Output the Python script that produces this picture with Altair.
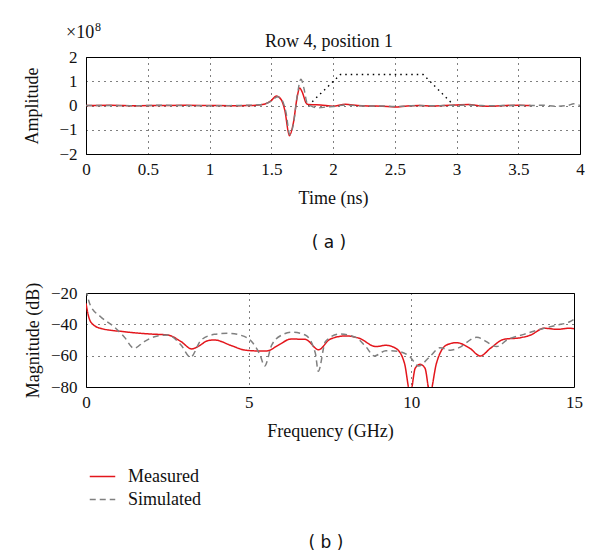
import altair as alt
import pandas as pd

# ---------------- panel (a): time domain ----------------
t_measured = [0.0, 0.2, 0.4, 0.6, 0.8, 1.0, 1.2, 1.3, 1.4, 1.45, 1.5, 1.54, 1.58, 1.61, 1.647,
              1.68, 1.71, 1.73, 1.755, 1.78, 1.8, 1.85, 1.9, 2.0, 2.1, 2.2, 2.3, 2.4, 2.5, 2.6,
              2.7, 2.8, 2.9, 3.0, 3.1, 3.2, 3.3, 3.4, 3.5, 3.6]
a_measured = [0.0, 0.01, -0.01, 0.0, 0.01, 0.0, -0.01, 0.0, 0.02, 0.06, 0.2, 0.39, 0.25, -0.2, -1.25,
              -0.7, 0.35, 0.72, 0.5, 0.12, 0.04, 0.03, 0.02, -0.03, 0.05, 0.0, -0.02, -0.03, -0.06, -0.02,
              0.0, -0.02, 0.0, 0.02, 0.04, -0.02, -0.03, 0.0, 0.01, 0.0]

t_simulated = [0.0, 0.2, 0.4, 0.6, 0.8, 1.0, 1.2, 1.3, 1.4, 1.45, 1.5, 1.55, 1.59, 1.62, 1.65,
               1.68, 1.71, 1.74, 1.765, 1.79, 1.82, 1.88, 1.95, 2.0, 2.1, 2.2, 2.3, 2.4, 2.5, 2.6,
               2.7, 2.8, 2.9, 3.0, 3.1, 3.2, 3.3, 3.4, 3.5, 3.6, 3.7, 3.8, 3.9, 3.95, 4.0]
a_simulated = [0.0, 0.0, -0.01, 0.01, 0.0, -0.01, 0.0, 0.01, 0.03, 0.07, 0.18, 0.36, 0.2, -0.3, -1.2,
               -0.75, 0.4, 1.08, 0.7, 0.1, -0.02, -0.1, -0.06, -0.04, 0.02, -0.01, -0.02, -0.02, -0.04, -0.02,
               0.0, -0.01, 0.0, 0.01, 0.02, 0.0, -0.01, 0.0, 0.01, 0.0, 0.01, -0.03, 0.0, 0.07, 0.0]

t_window = [1.8, 2.06, 2.73, 2.98]
a_window = [0.0, 1.28, 1.28, 0.0]

x_ticks_a = [0, 0.5, 1, 1.5, 2, 2.5, 3, 3.5, 4]
y_ticks_a = [-2, -1, 0, 1, 2]

# ---------------- panel (b): frequency domain ----------------
f_measured = [0.0, 0.08, 0.18, 0.44, 1.17, 1.99, 2.51, 2.92, 3.25, 3.44, 3.75, 3.95, 4.47, 4.88,
              5.3, 5.55, 5.92, 6.3, 6.74, 7.15, 7.5, 7.98, 8.4, 8.91, 9.22, 9.53, 9.79, 9.97,
              10.12, 10.27, 10.42, 10.57, 10.77, 11.08, 11.39, 11.8, 12.12, 12.43, 12.84, 13.36,
              13.67, 14.08, 14.49, 14.85, 15.0]
db_measured = [-26.6, -35.0, -39.4, -42.5, -44.7, -46.2, -46.8, -51.0, -55.7, -54.2, -50.4, -50.0, -53.6, -56.4,
               -57.0, -57.0, -53.2, -49.4, -49.6, -56.2, -49.5, -47.4, -48.9, -54.2, -53.4, -55.4, -64.9, -84.0,
               -68.0, -65.5, -68.0, -84.0, -65.0, -53.2, -51.7, -55.3, -60.2, -55.3, -49.6, -48.5,
               -46.8, -42.5, -43.2, -42.5, -42.8]

f_simulated = [0.0, 0.13, 0.44, 0.86, 1.17, 1.48, 1.79, 2.2, 2.51, 2.92, 3.21, 3.54, 3.95, 4.37,
               4.73, 5.09, 5.35, 5.49, 5.71, 6.02, 6.33, 6.74, 7.05, 7.14, 7.36, 7.78, 8.29, 8.6,
               8.86, 9.22, 9.64, 9.95, 10.22, 10.57, 10.88, 11.2, 11.45, 12.01, 12.63, 12.94, 13.46,
               14.08, 14.49, 14.85, 15.0]
db_simulated = [-18.0, -27.7, -35.0, -41.5, -47.9, -55.3, -51.0, -47.4, -46.8, -53.2, -61.0, -50.0, -46.4, -45.7,
                -46.8, -51.0, -59.6, -66.6, -53.2, -46.8, -45.0, -46.8, -58.5, -70.0, -51.0, -46.2, -48.3, -54.2,
                -60.2, -56.8, -57.4, -60.6, -66.6, -60.6, -55.0, -56.5, -55.0, -48.3, -54.2, -50.0, -46.4,
                -42.5, -40.5, -38.5, -36.8]

x_ticks_b = [0, 5, 10, 15]
y_ticks_b = [-80, -60, -40, -20]

series_names = ["Measured", "Simulated"]
series_colors = ["#e3161c", "#808080"]

SERIF = "Liberation Serif"
SANS = "DejaVu Sans"
RED = series_colors[0]
GRAY = series_colors[1]
INK = "#111111"


def axis(title, values, fmt, label_pad, title_pad):
    return alt.Axis(title=title, values=values, format=fmt, grid=True, gridColor="black",
                    gridDash=[1, 5], gridWidth=1, gridOpacity=1, ticks=False, domain=False,
                    labelFont=SERIF, labelFontSize=17, labelColor=INK, labelPadding=label_pad,
                    titleFont=SERIF, titleFontSize=18, titleFontWeight="normal", titleColor=INK,
                    titlePadding=title_pad, labelFlush=False, labelOverlap=False)


def note(text, font, size, x, y, align="center", baseline="middle"):
    return alt.Chart(pd.DataFrame({"s": [text]})).mark_text(
        font=font, fontSize=size, align=align, baseline=baseline, color=INK
    ).encode(text="s:N", x=alt.value(x), y=alt.value(y))


# ---- top chart ----
W1, H1 = 494, 97
xa = alt.X("t:Q", scale=alt.Scale(domain=[0, 4], nice=False),
           axis=axis("Time (ns)", x_ticks_a, "~g", 7, 12))
ya = alt.Y("a:Q", scale=alt.Scale(domain=[-2, 2], nice=False),
           axis=axis("Amplitude", y_ticks_a, "d", 9, 17))

df_meas_a = pd.DataFrame({"t": t_measured, "a": a_measured})
df_sim_a = pd.DataFrame({"t": t_simulated, "a": a_simulated})
df_win_a = pd.DataFrame({"t": t_window, "a": a_window})

win = alt.Chart(df_win_a).mark_line(color="black", strokeDash=[1.5, 4], strokeWidth=1.4).encode(x=xa, y=ya)
meas_a = alt.Chart(df_meas_a).mark_line(color=RED, strokeWidth=1.5, interpolate="monotone").encode(x=xa, y=ya)
sim_a = alt.Chart(df_sim_a).mark_line(color=GRAY, strokeDash=[6, 4], strokeWidth=1.4,
                                      interpolate="monotone").encode(x=xa, y=ya)

top = alt.layer(
    win, meas_a, sim_a,
    note("Row 4, position 1", SERIF, 18, 243, -15),
    note("×10", SERIF, 18, -20, -19, align="left", baseline="alphabetic"),
    note("8", SERIF, 12, 9, -26, align="left", baseline="alphabetic"),
    note("( a )", SANS, 17, 243, 186),
).properties(width=W1, height=H1)

# ---- bottom chart ----
W2, H2 = 488, 94
rows = []
for f, d in zip(f_measured, db_measured):
    rows.append({"f": f, "db": d, "series": series_names[0]})
for f, d in zip(f_simulated, db_simulated):
    rows.append({"f": f, "db": d, "series": series_names[1]})
df_b = pd.DataFrame(rows)

leg = alt.Legend(title=None, orient="none", legendX=3, legendY=170, symbolType="stroke",
                 symbolSize=650, symbolStrokeWidth=1.5, labelFont=SERIF, labelFontSize=18,
                 labelColor=INK, rowPadding=0, labelOffset=12)
xb = alt.X("f:Q", scale=alt.Scale(domain=[0, 15], nice=False),
           axis=axis("Frequency (GHz)", x_ticks_b, "d", 7, 12))
yb = alt.Y("db:Q", scale=alt.Scale(domain=[-80, -20], nice=False),
           axis=axis("Magnitude (dB)", y_ticks_b, "d", 9, 8))
lines_b = alt.Chart(df_b).mark_line(strokeWidth=1.5, clip=True, interpolate="monotone").encode(
    x=xb, y=yb,
    color=alt.Color("series:N", scale=alt.Scale(domain=series_names, range=series_colors), legend=leg),
    strokeDash=alt.StrokeDash("series:N", scale=alt.Scale(domain=series_names, range=[[1, 0], [6, 4]]),
                              legend=leg),
)

bottom = alt.layer(lines_b, note("( b )", SANS, 17, 240, 250)).properties(width=W2, height=H2)

chart = alt.concat(top, bottom, columns=1, spacing=29).resolve_scale(
    color="independent", strokeDash="independent"
).properties(
    padding={"left": 15, "top": 12, "right": 0, "bottom": 0}, background="white"
).configure_view(stroke="black", strokeWidth=1)

chart.save("out.html", embed_options={"renderer": "svg", "actions": False})
